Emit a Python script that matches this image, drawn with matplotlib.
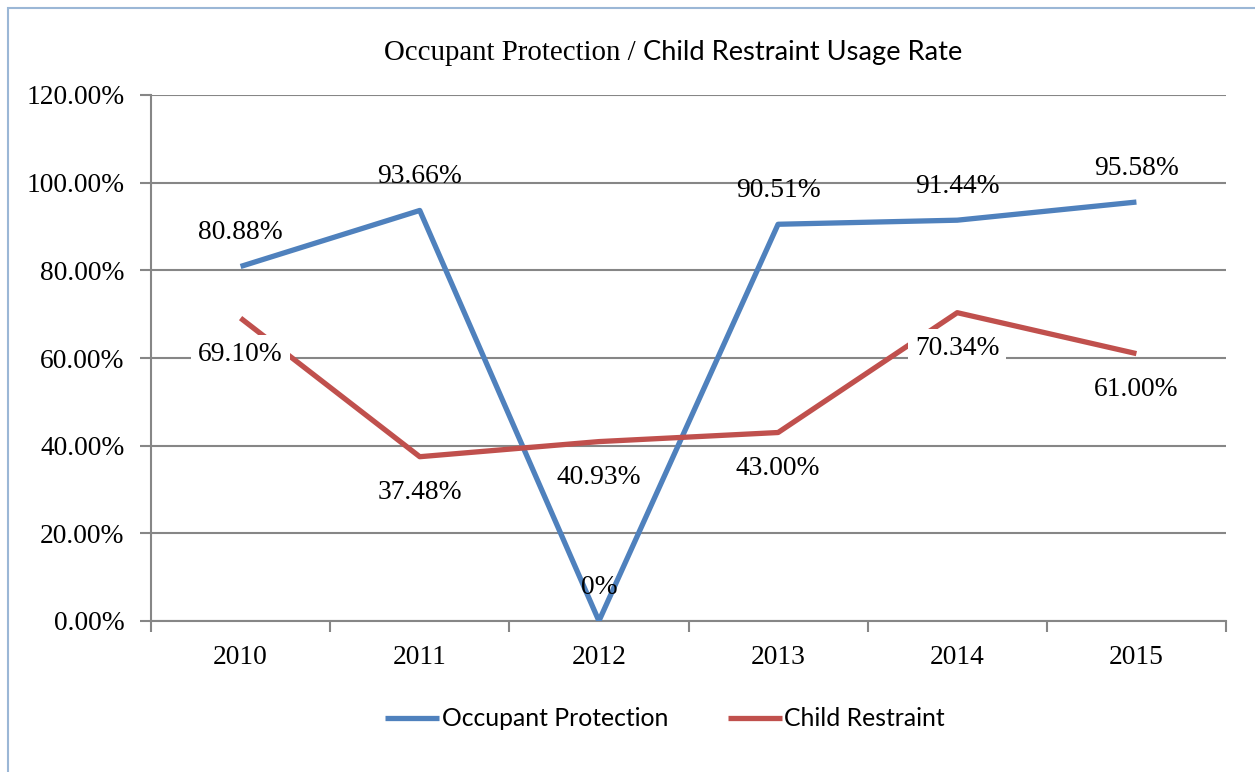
import matplotlib
matplotlib.use("Agg")
import matplotlib.pyplot as plt
from matplotlib.patches import Rectangle
from matplotlib.ticker import FixedLocator, NullFormatter

years = ["2010", "2011", "2012", "2013", "2014", "2015"]
occupant = [80.88, 93.66, 0.0, 90.51, 91.44, 95.58]
child = [69.10, 37.48, 40.93, 43.00, 70.34, 61.00]
occupant_labels = ["80.88%", "93.66%", "0%", "90.51%", "91.44%", "95.58%"]
child_labels = ["69.10%", "37.48%", "40.93%", "43.00%", "70.34%", "61.00%"]
yticks = [0, 20, 40, 60, 80, 100, 120]
ytick_labels = ["0.00%", "20.00%", "40.00%", "60.00%", "80.00%", "100.00%", "120.00%"]

BLUE = "#4F81BD"
RED = "#C0504D"
GRID = "#868686"
SERIF = "Liberation Serif"
SANS = ["Lato", "DejaVu Sans"]
FS = 19.8

W, H = 1255, 772
fig = plt.figure(figsize=(W / 100, H / 100), dpi=100)
fig.patch.set_facecolor("white")

# outer chart border (right and bottom edges fall outside the image)
fig.add_artist(Rectangle((8 / W, -0.05), 1.2, 1 - 8 / H + 0.05, transform=fig.transFigure,
                         fill=False, edgecolor="#9BB7D6", linewidth=1.5))

ax = fig.add_axes([151 / W, 1 - 621 / H, (1226 - 151) / W, (621 - 95) / H])
x = list(range(len(years)))
ax.set_xlim(-0.5, len(years) - 0.5)
ax.set_ylim(0, 120)

for s in ["top", "right"]:
    ax.spines[s].set_visible(False)
for s in ["left", "bottom"]:
    ax.spines[s].set_color(GRID)
    ax.spines[s].set_linewidth(1.5)

ax.set_yticks(yticks)
ax.set_yticklabels(ytick_labels, fontfamily=SERIF, fontsize=FS)
ax.yaxis.grid(True, color=GRID, linewidth=1.5)
ax.set_axisbelow(True)
ax.tick_params(axis="y", length=8, width=1.5, color=GRID, pad=11)

ax.set_xticks(x)
ax.set_xticklabels(years, fontfamily=SERIF, fontsize=FS)
ax.tick_params(axis="x", which="major", length=0, pad=17)
ax.xaxis.set_minor_locator(FixedLocator([i + 0.5 for i in range(-1, len(years))]))
ax.xaxis.set_minor_formatter(NullFormatter())
ax.tick_params(axis="x", which="minor", length=8, width=1.5, color=GRID)

l1, = ax.plot(x, occupant, color=BLUE, linewidth=3.8, solid_capstyle="butt", zorder=3,
              label="Occupant Protection")
l2, = ax.plot(x, child, color=RED, linewidth=3.8, solid_capstyle="butt", zorder=3,
              label="Child Restraint")

for xi, v, t in zip(x, occupant, occupant_labels):
    ax.annotate(t, (xi, v), xytext=(0, 34 * 0.72), textcoords="offset points",
                ha="center", va="center", fontfamily=SERIF, fontsize=FS, zorder=5)
for xi, v, t in zip(x, child, child_labels):
    ax.annotate(t, (xi, v), xytext=(0, -36 * 0.72), textcoords="offset points",
                ha="center", va="center", fontfamily=SERIF, fontsize=FS, zorder=5,
                bbox=dict(boxstyle="square,pad=0.25", facecolor="white", edgecolor="none"))

# title: mixed fonts
fig.canvas.draw()
r = fig.canvas.get_renderer()
t1 = fig.text(0, 0, "Occupant Protection / ", fontfamily=SERIF, fontsize=20.8)
t2 = fig.text(0, 0, "Child Restraint Usage Rate", fontfamily=SANS, fontsize=19.6)
w1 = t1.get_window_extent(r).width
w2 = t2.get_window_extent(r).width
start = 673 - (w1 + w2) / 2
ybase = 1 - 60 / H
t1.set_position((start / W, ybase))
t2.set_position(((start + w1) / W, ybase))
t1.set_va("baseline")
t2.set_va("baseline")

leg = fig.legend(handles=[l1, l2], loc="center", bbox_to_anchor=(665 / W, 1 - 719 / H),
                 ncol=2, frameon=False, prop={"family": SANS, "size": 17.8},
                 handlelength=2.2, handletextpad=0.1, columnspacing=2.4)

fig.savefig("out.png", dpi=100, facecolor="white")
